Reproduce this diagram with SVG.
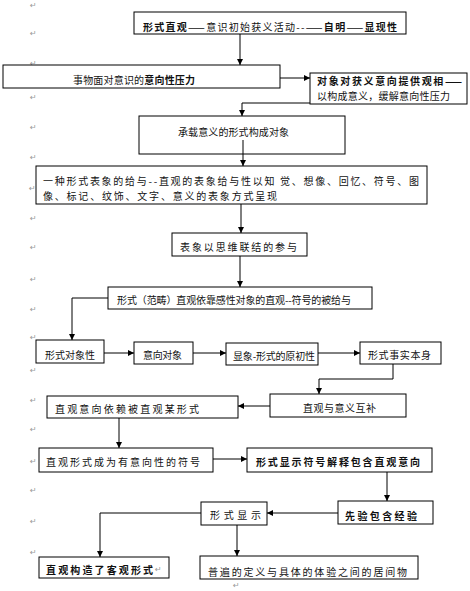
<svg xmlns="http://www.w3.org/2000/svg" width="470" height="591" viewBox="0 0 470 591">
<defs>
<style>
.bx{fill:#fff;stroke:#000;stroke-width:1}
.t{font-family:"Noto Sans CJK SC","Liberation Sans",sans-serif;font-size:10px;fill:#111;dominant-baseline:central}
.b{font-weight:bold}
.pm{font-family:"DejaVu Sans",sans-serif;font-size:8px;fill:#999;dominant-baseline:central}
.c{fill:none;stroke:#000;stroke-width:1}
</style>
<marker id="ah" markerWidth="6" markerHeight="6" refX="6" refY="3" orient="auto" markerUnits="userSpaceOnUse">
<path d="M0,0 L6,3 L0,6 z" fill="#000"/>
</marker>
</defs>
<rect width="470" height="591" fill="#fff"/>
<g id="marks">
<text class="pm" x="30" y="5">↵</text>
<text class="pm" x="30" y="33">↵</text>
<text class="pm" x="30" y="63">↵</text>
<text class="pm" x="30" y="97">↵</text>
<text class="pm" x="30" y="127">↵</text>
<text class="pm" x="30" y="157">↵</text>
<text class="pm" x="29" y="188">↵</text>
<text class="pm" x="30" y="218">↵</text>
<text class="pm" x="30" y="247">↵</text>
<text class="pm" x="30" y="279">↵</text>
<text class="pm" x="30" y="309">↵</text>
<text class="pm" x="30" y="337">↵</text>
<text class="pm" x="30" y="370">↵</text>
<text class="pm" x="30" y="400">↵</text>
<text class="pm" x="30" y="429">↵</text>
<text class="pm" x="30" y="461">↵</text>
<text class="pm" x="30" y="490">↵</text>
<text class="pm" x="30" y="521">↵</text>
<text class="pm" x="30" y="552">↵</text>
<text class="pm" x="233" y="585">↵</text>
</g>
<g id="n1"><rect class="bx" x="134" y="12" width="272" height="22"/>
<text class="t" x="143" y="26" textLength="254" lengthAdjust="spacing"><tspan class="b">形式直观</tspan>——意识初始获义活动--——<tspan class="b">自明</tspan>——<tspan class="b">显现性</tspan></text></g>
<g id="n2"><rect class="bx" x="3" y="65" width="277" height="23"/>
<text class="t" x="73" y="79" textLength="122" lengthAdjust="spacing">事物面对意识的<tspan class="b">意向性压力</tspan></text></g>
<g id="n3"><rect class="bx" x="310" y="73" width="157" height="31"/>
<text class="t b" x="317" y="80" textLength="145" lengthAdjust="spacing">对象对获义意向提供观相——</text>
<text class="t" x="317" y="95" textLength="133" lengthAdjust="spacing">以构成意义，缓解意向性压力</text></g>
<g id="n4"><rect class="bx" x="139" y="116" width="206" height="38"/>
<text class="t" x="178" y="131" textLength="111" lengthAdjust="spacing">承载意义的形式构成对象</text></g>
<g id="n5"><rect class="bx" x="36" y="166" width="391" height="38"/>
<text class="t" x="43" y="180" textLength="376" lengthAdjust="spacing">一种形式表象的给与--直观的表象给与性以知  觉、想像、回忆、符号、图</text>
<text class="t" x="43" y="195" textLength="234" lengthAdjust="spacing">像、标记、纹饰、文字、意义的表象方式呈现</text></g>
<g id="n6"><rect class="bx" x="172" y="233" width="135" height="23"/>
<text class="t" x="180" y="246" textLength="117" lengthAdjust="spacing">表象以思维联结的参与</text></g>
<g id="n7"><rect class="bx" x="108" y="287" width="264" height="22"/>
<text class="t" x="117" y="299" textLength="234" lengthAdjust="spacing">形式（范畴）直观依靠感性对象的直观--符号的被给与</text></g>
<g id="n8"><rect class="bx" x="36" y="340" width="68" height="23"/>
<text class="t" x="45" y="354" textLength="50" lengthAdjust="spacing">形式对象性</text></g>
<g id="n9"><rect class="bx" x="134" y="342" width="59" height="22"/>
<text class="t" x="143" y="354" textLength="39" lengthAdjust="spacing">意向对象</text></g>
<g id="n10"><rect class="bx" x="226" y="343" width="92" height="22"/>
<text class="t" x="233" y="355" textLength="82" lengthAdjust="spacing">显象-形式的原初性</text></g>
<g id="n11"><rect class="bx" x="360" y="342" width="81" height="22"/>
<text class="t" x="368" y="354" textLength="63" lengthAdjust="spacing">形式事实本身</text></g>
<g id="n12"><rect class="bx" x="270" y="394" width="136" height="23"/>
<text class="t" x="303" y="407" textLength="73" lengthAdjust="spacing">直观与意义互补</text></g>
<g id="n13"><rect class="bx" x="47" y="396" width="191" height="22"/>
<text class="t" x="55" y="408" textLength="144" lengthAdjust="spacing">直观意向依赖被直观某形式</text></g>
<g id="n14"><rect class="bx" x="39" y="448" width="174" height="24"/>
<text class="t" x="46" y="461" textLength="154" lengthAdjust="spacing">直观形式成为有意向性的符号</text></g>
<g id="n15"><rect class="bx" x="247" y="448" width="185" height="24"/>
<text class="t b" x="256" y="461" textLength="164" lengthAdjust="spacing">形式显示符号解释包含直观意向</text></g>
<g id="n16"><rect class="bx" x="338" y="501" width="95" height="23"/>
<text class="t b" x="345" y="515" textLength="72" lengthAdjust="spacing">先验包含经验</text></g>
<g id="n17"><rect class="bx" x="201" y="502" width="66" height="23"/>
<text class="t" x="210" y="514" textLength="51" lengthAdjust="spacing">形式显示</text></g>
<g id="n18"><rect class="bx" x="39" y="557" width="130" height="21"/>
<text class="t b" x="46" y="569" textLength="107" lengthAdjust="spacing">直观构造了客观形式</text>
<text class="pm" x="155" y="569">↵</text></g>
<g id="n19"><rect class="bx" x="200" y="556" width="218" height="23"/>
<text class="t" x="208" y="571" textLength="199" lengthAdjust="spacing">普遍的定义与具体的体验之间的居间物</text></g>
<g id="connectors">
<path class="c" d="M240,34 V65" marker-end="url(#ah)"/>
<path class="c" d="M280,78 H310" marker-end="url(#ah)"/>
<path class="c" d="M310,103 H242 V116" marker-end="url(#ah)"/>
<path class="c" d="M243,140 V166" marker-end="url(#ah)"/>
<path class="c" d="M241,204 V233" marker-end="url(#ah)"/>
<path class="c" d="M240,256 V287" marker-end="url(#ah)"/>
<path class="c" d="M108,298 H72 V340" marker-end="url(#ah)"/>
<path class="c" d="M104,353 H134" marker-end="url(#ah)"/>
<path class="c" d="M193,353 H226" marker-end="url(#ah)"/>
<path class="c" d="M318,353 H360" marker-end="url(#ah)"/>
<path class="c" d="M393,364 V379 H319 V394" marker-end="url(#ah)"/>
<path class="c" d="M270,406 H238" marker-end="url(#ah)"/>
<path class="c" d="M119,418 V448" marker-end="url(#ah)"/>
<path class="c" d="M213,459 H247" marker-end="url(#ah)"/>
<path class="c" d="M387,472 V501" marker-end="url(#ah)"/>
<path class="c" d="M338,513 H267" marker-end="url(#ah)"/>
<path class="c" d="M201,513 H100 V557" marker-end="url(#ah)"/>
<path class="c" d="M237,525 V556" marker-end="url(#ah)"/>
</g>
</svg>
